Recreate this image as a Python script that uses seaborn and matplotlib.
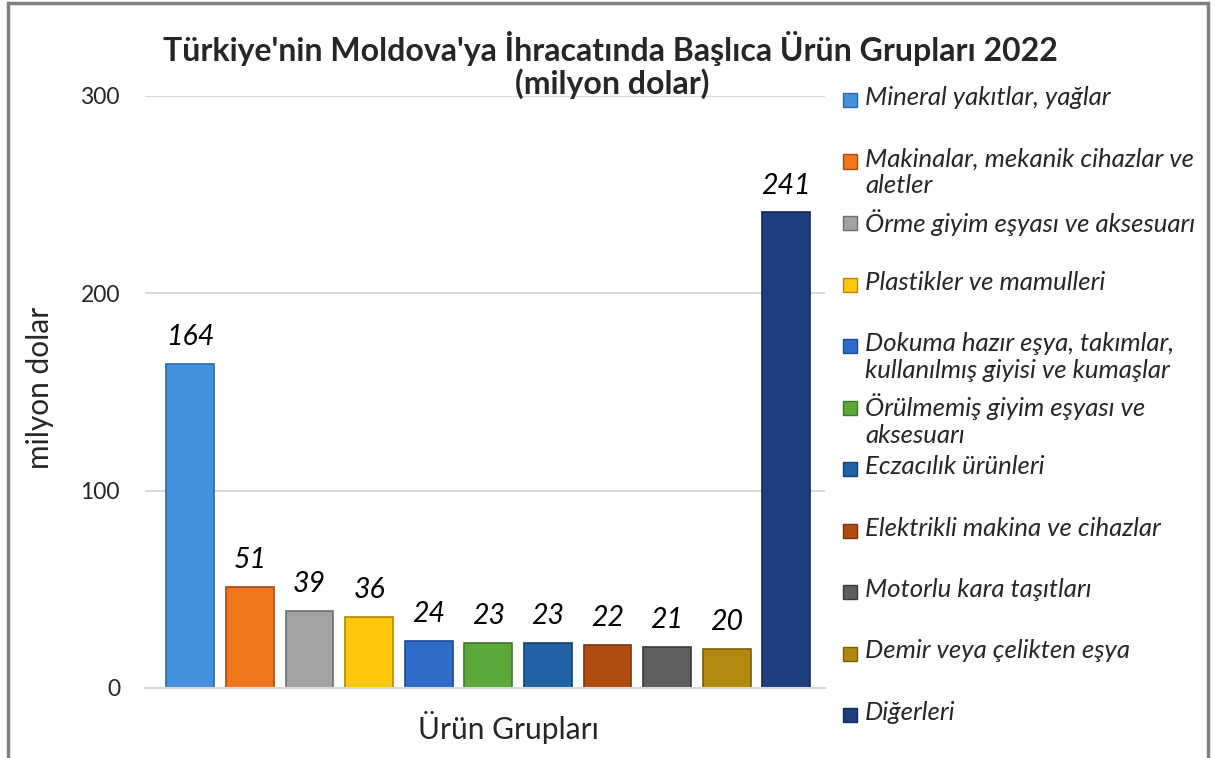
import matplotlib
matplotlib.use("Agg")
import matplotlib.pyplot as plt
import matplotlib.patches as mpatches
import seaborn as sns
import pandas as pd

categories = [
    "Mineral yakıtlar, yağlar",
    "Makinalar, mekanik cihazlar ve\naletler",
    "Örme giyim eşyası ve aksesuarı",
    "Plastikler ve mamulleri",
    "Dokuma hazır eşya, takımlar,\nkullanılmış giyisi ve kumaşlar",
    "Örülmemiş giyim eşyası ve\naksesuarı",
    "Eczacılık ürünleri",
    "Elektrikli makina ve cihazlar",
    "Motorlu kara taşıtları",
    "Demir veya çelikten eşya",
    "Diğerleri",
]
values = [164, 51, 39, 36, 24, 23, 23, 22, 21, 20, 241]
colors = ["#4391dc", "#f2761e", "#a3a3a3", "#fdc70a", "#2f6cc9", "#5ca83a",
          "#1f62a6", "#b14b12", "#5e5e5e", "#b08a0e", "#1f3e80"]
edges = ["#2a6aa8", "#a44c10", "#6e6e6e", "#b08a00", "#1d4a90", "#3c7a24",
         "#134070", "#7a320a", "#3a3a3a", "#7a5e06", "#122a58"]
yticks = [0, 100, 200, 300]

title_line1 = "Türkiye'nin Moldova'ya İhracatında Başlıca Ürün Grupları 2022"
title_line2 = "(milyon dolar)"
ylabel = "milyon dolar"
xlabel = "Ürün Grupları"

sns.set_theme(style="white")
plt.rcParams["font.family"] = ["Lato", "DejaVu Sans"]

W, H = 1215, 758
fig = plt.figure(figsize=(W / 100, H / 100), dpi=100)
ax = fig.add_axes([145 / W, 1 - 688 / H, (825 - 145) / W, (688 - 96) / H])

df = pd.DataFrame({"cat": categories, "val": values})
sns.barplot(data=df, x="cat", y="val", hue="cat", palette=colors, legend=False,
            width=0.8, ax=ax, saturation=1)
for p, ec in zip(ax.patches, edges):
    p.set_edgecolor(ec)
    p.set_linewidth(1.2)

for i, v in enumerate(values):
    ax.annotate(str(v), (i, v), xytext=(0, 10), textcoords="offset points",
                ha="center", va="bottom", fontsize=20.5, style="italic", color="black")

ax.set_ylim(0, 300)
ax.set_xlim(-0.76, 10.65)
ax.set_yticks(yticks)
ax.set_yticklabels([str(t) for t in yticks], fontsize=16.5)
ax.tick_params(axis="y", length=0, pad=18)
ax.set_xticks([])
ax.set_xlabel("")
ax.set_ylabel("")
ax.yaxis.grid(True, color="#d9d9d9", linewidth=1.5)
ax.set_axisbelow(True)
for s in ["top", "right", "left"]:
    ax.spines[s].set_visible(False)
ax.spines["bottom"].set_color("#d9d9d9")
ax.spines["bottom"].set_linewidth(1.5)

fig.text(610 / W, 1 - 48 / H, title_line1, ha="center", va="center", fontsize=23,
         fontweight="bold")
fig.text(612 / W, 1 - 84 / H, title_line2, ha="center", va="center", fontsize=23,
         fontweight="bold")
fig.text(40 / W, 1 - 388 / H, ylabel, ha="center", va="center", rotation=90, fontsize=21.5)
fig.text(508 / W, 1 - 728 / H, xlabel, ha="center", va="center", fontsize=21.5)

# legend
slot0, pitch = 100, 61.5
for i, (lab, c, ec) in enumerate(zip(categories, colors, edges)):
    yc = slot0 + i * pitch
    fig.patches.append(mpatches.Rectangle((843 / W, 1 - (yc + 7) / H), 14 / W, 14 / H,
                                          transform=fig.transFigure, facecolor=c,
                                          edgecolor=ec, linewidth=1))
    fig.text(865 / W, 1 - (yc - 14) / H, lab, ha="left", va="top", fontsize=18.5,
             style="italic", linespacing=1.2)

fig.patches.append(mpatches.Rectangle((8 / W, -0.01), 1200 / W, 1.01 - 3 / H,
                                      transform=fig.transFigure, fill=False,
                                      edgecolor="#7f7f7f", linewidth=2.5))

fig.savefig("out.png", dpi=100)
